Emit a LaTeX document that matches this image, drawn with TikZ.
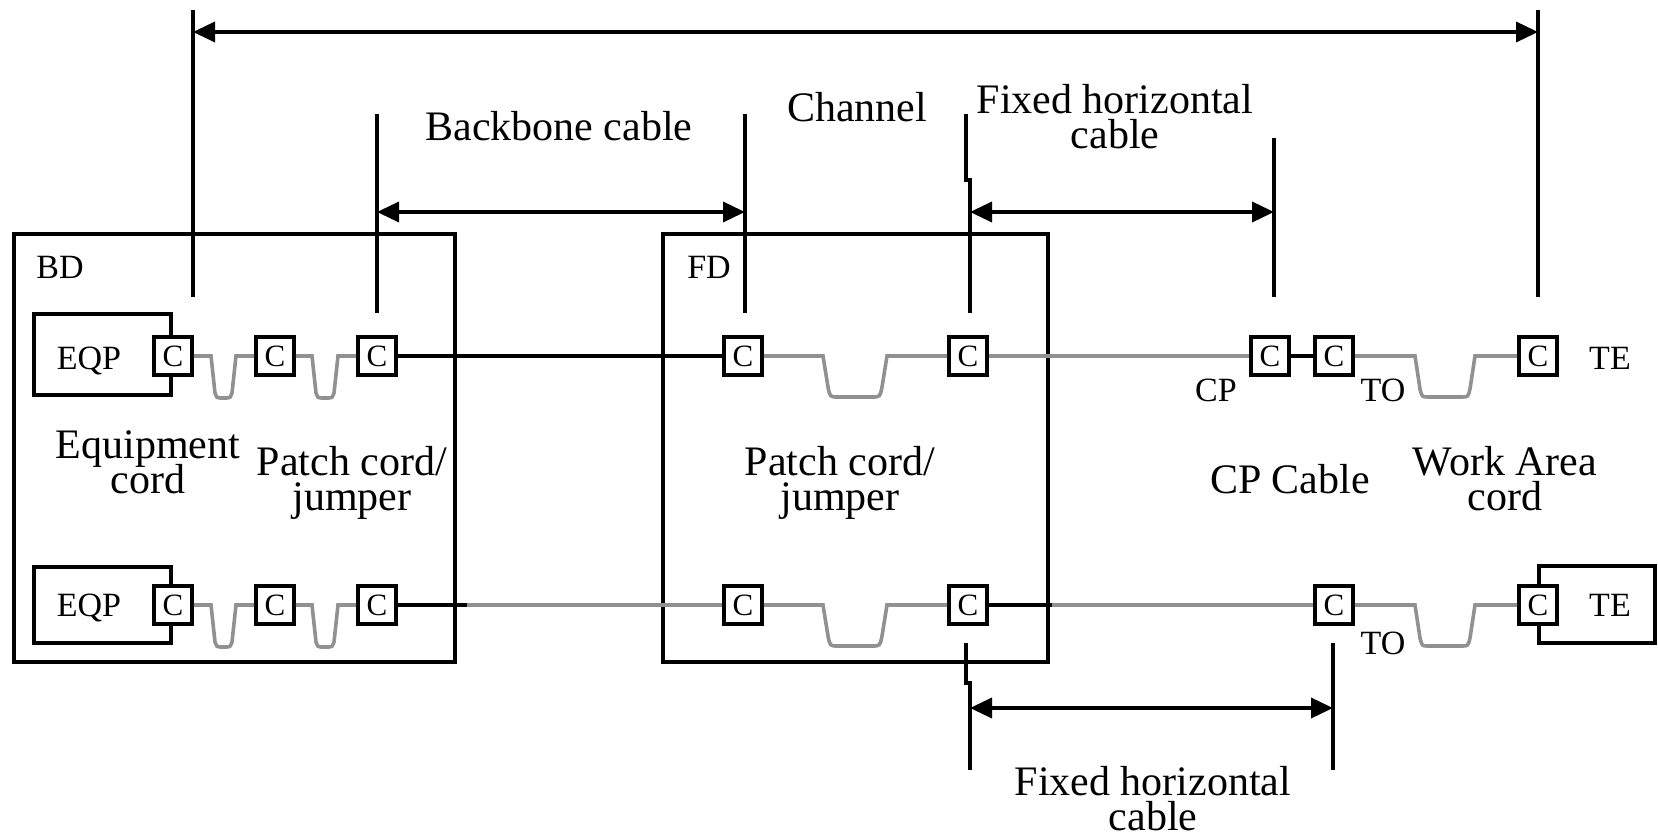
\documentclass[tikz,border=0pt]{standalone}
\usepackage{fontspec}
\setmainfont{Liberation Serif}
\usetikzlibrary{arrows.meta}
\definecolor{cordgray}{RGB}{145,145,145}
\lineskiplimit=-100pt
% dip of a cord: xL, xR, y, depth, slant, corner
\newcommand\dip[6]{-- (#1,#3) -- ({#1+#5},{#3+#4-#6}) .. controls ({#1+#5+2},{#3+#4}) .. ({#1+#5+#6},{#3+#4}) -- ({#2-#5-#6},{#3+#4}) .. controls ({#2-#5-2},{#3+#4}) .. ({#2-#5},{#3+#4-#6}) -- (#2,#3)}
\begin{document}
\begin{tikzpicture}[x=1pt,y=-1pt,
  blk/.style={line width=3.6pt,black},
  cord/.style={line width=3.6pt,draw=cordgray},
  ext/.style={line width=3.6pt,black},
  dim/.style={line width=3.6pt,black,{Triangle[length=22pt,width=20pt]}-{Triangle[length=22pt,width=20pt]}},
  box/.style={draw,line width=3.6pt,inner sep=0pt},
  cbox/.style={draw,line width=3.6pt,fill=white,minimum size=38pt,inner sep=0pt,font=\fontsize{31}{31}\selectfont},
  small/.style={font=\fontsize{34}{34}\selectfont,inner sep=0pt},
  big/.style={font=\fontsize{42}{35}\selectfont,align=center,inner sep=0pt},
]
\useasboundingbox (0,0) rectangle (1658,837);
% containers
\node[box,minimum width=441pt,minimum height=428pt] (bd) at (234.5,448) {};
\node[box,minimum width=385pt,minimum height=428pt] (fd) at (855.5,448) {};
\node[box,minimum width=137pt,minimum height=81pt] (eqp1) at (102.5,354.5) {};
\node[box,minimum width=137pt,minimum height=76pt] (eqp2) at (102.5,605) {};
\node[box,minimum width=116pt,minimum height=77pt] (te2) at (1597,604.5) {};
% small labels
\node[small] (bdl) at (60,267) {BD};
\node[small] (fdl) at (709,267) {FD};
\node[small,anchor=base] (eqpl1) at (89,369) {EQP};
\node[small,anchor=base] (eqpl2) at (89,616) {EQP};
\node[small] (cpl) at (1216,390) {CP};
\node[small] (tol1) at (1383,390) {TO};
\node[small] (tol2) at (1383,643) {TO};
\node[small] (tel1) at (1610,358) {TE};
\node[small] (tel2) at (1610,605) {TE};
% connectors (C boxes)
\node[cbox] (t1) at (173,356) {C};
\node[cbox] (t2) at (275,356) {C};
\node[cbox] (t3) at (377,356) {C};
\node[cbox] (t4) at (743,356) {C};
\node[cbox] (t5) at (968,356) {C};
\node[cbox] (t6) at (1270,356) {C};
\node[cbox] (t7) at (1334,356) {C};
\node[cbox] (t8) at (1538,356) {C};
\node[cbox] (b1) at (173,605) {C};
\node[cbox] (b2) at (275,605) {C};
\node[cbox] (b3) at (377,605) {C};
\node[cbox] (b4) at (743,605) {C};
\node[cbox] (b5) at (968,605) {C};
\node[cbox] (b6) at (1334,605) {C};
\node[cbox] (b7) at (1538,605) {C};
% top row cords and cables
\draw[cord] (t1.east) \dip{211}{236}{356}{42}{4}{5} -- (t2.west);
\draw[cord] (t2.east) \dip{312}{338}{356}{42}{4}{5} -- (t3.west);
\draw[blk] (t3.east) -- (t4.west);
\draw[cord] (t4.east) \dip{823}{887}{356}{41}{5}{10} -- (t5.west);
\draw[cord] (t5.east) -- (t6.west);
\draw[blk] (t6.east) -- (t7.west);
\draw[cord] (t7.east) \dip{1415}{1475}{356}{41}{5}{8} -- (t8.west);
% bottom row cords and cables
\draw[cord] (b1.east) \dip{211}{236}{605}{42}{4}{5} -- (b2.west);
\draw[cord] (b2.east) \dip{312}{338}{605}{42}{4}{5} -- (b3.west);
\draw[blk] (b3.east) -- (467,605) coordinate (bj1);
\draw[cord] (bj1) -- (b4.west);
\draw[cord] (b4.east) \dip{823}{887}{605}{41}{5}{10} -- (b5.west);
\draw[blk] (b5.east) -- (1052,605) coordinate (bj2);
\draw[cord] (bj2) -- (b6.west);
\draw[cord] (b6.east) \dip{1415}{1475}{605}{41}{5}{8} -- (b7.west);
% dimension: channel
\coordinate (c1t) at (193,10); \coordinate (c1b) at (193,297);
\coordinate (c2t) at (1538,10); \coordinate (c2b) at (1538,297);
\draw[ext] (c1t) -- (c1b);
\draw[ext] (c2t) -- (c2b);
\coordinate (c1a) at (193,32); \coordinate (c2a) at (1538,32);
\draw[dim] (c1a) -- (c2a);
% dimension: backbone
\coordinate (k1t) at (377,114); \coordinate (k1b) at (377,313);
\coordinate (k2t) at (745,114); \coordinate (k2b) at (745,313);
\draw[ext] (k1t) -- (k1b);
\draw[ext] (k2t) -- (k2b);
\coordinate (k1a) at (377,212); \coordinate (k2a) at (745,212);
\draw[dim] (k1a) -- (k2a);
% dimension: fixed horizontal (top)
\coordinate (h1t) at (966,114); \coordinate (h1b) at (970,313);
\coordinate (h2t) at (1274,138); \coordinate (h2b) at (1274,297);
\draw[ext] (h1t) -- (966,180) -- (970,180) -- (h1b);
\draw[ext] (h2t) -- (h2b);
\coordinate (h1a) at (970,212); \coordinate (h2a) at (1274,212);
\draw[dim] (h1a) -- (h2a);
% dimension: fixed horizontal (bottom)
\coordinate (g1t) at (966,643); \coordinate (g1b) at (970,770);
\coordinate (g2t) at (1333,643); \coordinate (g2b) at (1333,770);
\draw[ext] (g1t) -- (966,683) -- (970,683) -- (g1b);
\draw[ext] (g2t) -- (g2b);
\coordinate (g1a) at (970,708); \coordinate (g2a) at (1333,708);
\draw[dim] (g1a) -- (g2a);
% big labels
\node[big,anchor=base] (bbl) at (559,141) {Backbone cable};
\node[big,anchor=base] (chl) at (857,122) {Channel};
\node[big,anchor=north] (fh1) at (1115,84.5) {Fixed horizontal\\cable};
\node[big,anchor=north] (eqc) at (148,430) {Equipment\\cord};
\node[big,anchor=north] (pc1) at (352,446) {Patch cord/\\jumper};
\node[big,anchor=north] (pc2) at (840,446) {Patch cord/\\jumper};
\node[big,anchor=base] (cpc) at (1290,493) {CP Cable};
\node[big,anchor=north] (wac) at (1505,446) {Work Area\\cord};
\node[big,anchor=north] (fh2) at (1153,766.5) {Fixed horizontal\\cable};
\end{tikzpicture}
\end{document}
